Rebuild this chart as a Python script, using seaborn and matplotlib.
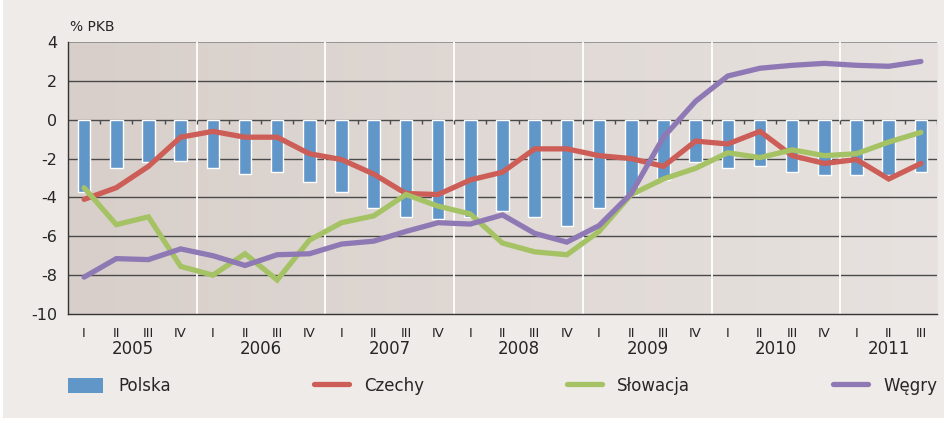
import numpy as np
import pandas as pd
import matplotlib
matplotlib.use("Agg")
import matplotlib.pyplot as plt
import seaborn as sns
from matplotlib import font_manager
from matplotlib.colors import LinearSegmentedColormap
from matplotlib.lines import Line2D
from matplotlib.patches import Patch, Rectangle
import matplotlib.transforms as mtransforms

years = ["2005", "2006", "2007", "2008", "2009", "2010", "2011"]
quarters = ["I", "II", "III", "IV"] * 6 + ["I", "II", "III"]

polska = [-3.7, -2.5, -2.2, -2.1, -2.5, -2.8, -2.7, -3.2, -3.7, -4.55, -5.0, -5.1,
          -5.0, -4.7, -5.0, -5.45, -4.55, -3.85, -3.1, -2.2, -2.5, -2.4, -2.7, -2.85,
          -2.85, -2.85, -2.7]
czechy = [-4.1, -3.5, -2.4, -0.9, -0.6, -0.9, -0.9, -1.75, -2.05, -2.8, -3.8, -3.85,
          -3.1, -2.7, -1.5, -1.5, -1.85, -2.0, -2.4, -1.1, -1.25, -0.6, -1.85, -2.25,
          -2.05, -3.05, -2.25]
slowacja = [-3.5, -5.4, -5.0, -7.55, -8.0, -6.9, -8.25, -6.2, -5.3, -4.95, -3.85, -4.45,
            -4.85, -6.35, -6.8, -6.95, -5.75, -3.85, -3.05, -2.5, -1.7, -1.95, -1.55, -1.85,
            -1.75, -1.15, -0.65]
wegry = [-8.1, -7.15, -7.2, -6.65, -7.0, -7.5, -6.95, -6.9, -6.4, -6.25, -5.75, -5.3,
         -5.37, -4.9, -5.85, -6.3, -5.45, -3.8, -0.9, 0.95, 2.25, 2.65, 2.8, 2.9,
         2.8, 2.75, 3.0]

c_pl = "#6196c9"
c_cz = "#cd5e57"
c_sk = "#a5c364"
c_hu = "#8f79b5"

sns.set_style("white")
names = {f.name for f in font_manager.fontManager.ttflist}
fam = "Liberation Sans Narrow" if "Liberation Sans Narrow" in names else "DejaVu Sans"
plt.rcParams["font.family"] = [fam, "DejaVu Sans"]

df = pd.DataFrame({"idx": np.arange(len(polska)), "Polska": polska, "Czechy": czechy,
                   "Słowacja": slowacja, "Węgry": wegry})

fig = plt.figure(figsize=(9.44, 4.23), dpi=100)
fig.patch.set_facecolor("white")
fig.patches.append(Rectangle((3 / 944, 5 / 423), 1, 1, transform=fig.transFigure,
                             facecolor="#efebe8", edgecolor="none", zorder=-10))
ax = fig.add_axes([68 / 944, 109 / 423, 869 / 944, 272 / 423])
n = len(polska)

# background gradient
cmap = LinearSegmentedColormap.from_list("bg", ["#d8cfca", "#e7e2df"])
ax.imshow(np.linspace(0, 1, 256).reshape(1, -1), cmap=cmap, aspect="auto",
          extent=[-0.5, n - 0.5, -10, 4], zorder=0)

for yv in range(-8, 4, 2):
    ax.axhline(yv, color="#4a4a4a", lw=1.0, zorder=1)
ax.axhline(4, color="#8a8a8a", lw=1.2, zorder=1)
for b in range(4, n, 4):
    ax.axvline(b - 0.5, color="white", lw=1.3, zorder=1)
ax.vlines(np.arange(n) + 0.5, -0.2, 0, color="#4a4a4a", lw=1.0, zorder=1)

sns.barplot(data=df, x="idx", y="Polska", color=c_pl, width=0.39, saturation=1,
            ax=ax, zorder=2)
for col, c in [("Czechy", c_cz), ("Słowacja", c_sk), ("Węgry", c_hu)]:
    sns.lineplot(data=df, x="idx", y=col, color=c, lw=3.8, ax=ax, zorder=3,
                 solid_capstyle="round", solid_joinstyle="miter")

ax.set_xlim(-0.5, n - 0.5)
ax.set_ylim(-10, 4)
ax.set_yticks(range(-10, 5, 2))
ax.set_yticklabels([str(v) for v in range(-10, 5, 2)], fontsize=11.5)
ax.set_xticks(np.arange(n))
ax.set_xticklabels(quarters, fontsize=9.5)
ax.set_xticks(np.arange(n + 1) - 0.5, minor=True)
ax.tick_params(axis="x", which="major", length=0, pad=9)
ax.tick_params(axis="x", which="minor", length=10, width=1, color="#333333", direction="out")
ax.tick_params(axis="y", length=5, width=1, color="#333333", pad=3, direction="out")
ax.set_xlabel("")
ax.set_ylabel("")
for s in ["top", "right"]:
    ax.spines[s].set_visible(False)
for s in ["left", "bottom"]:
    ax.spines[s].set_color("#333333")
    ax.spines[s].set_linewidth(1.0)

trans = mtransforms.blended_transform_factory(ax.transData, ax.transAxes)
for k, yr in enumerate(years):
    qs = [i for i in range(n) if i // 4 == k]
    ax.text(np.mean(qs), -0.128, yr, transform=trans, ha="center", va="center",
            fontsize=12)

fig.text(70 / 944, 1 - 27 / 423, "% PKB", fontsize=10, va="center", ha="left")

handles = [Patch(facecolor=c_pl, edgecolor="none"),
           Line2D([], [], color=c_cz, lw=3.8, solid_capstyle="round"),
           Line2D([], [], color=c_sk, lw=3.8, solid_capstyle="round"),
           Line2D([], [], color=c_hu, lw=3.8, solid_capstyle="round")]
leg = ax.legend(handles, ["Polska", "Czechy", "Słowacja", "Węgry"], ncol=4,
                loc="center left", bbox_to_anchor=(0.0, -0.265, 1.0, 0.0), mode="expand",
                frameon=False, fontsize=12, handlelength=2.1, handleheight=1.0,
                handletextpad=0.9, borderaxespad=0, borderpad=0)

fig.savefig("out.png", dpi=100, facecolor=fig.get_facecolor())
